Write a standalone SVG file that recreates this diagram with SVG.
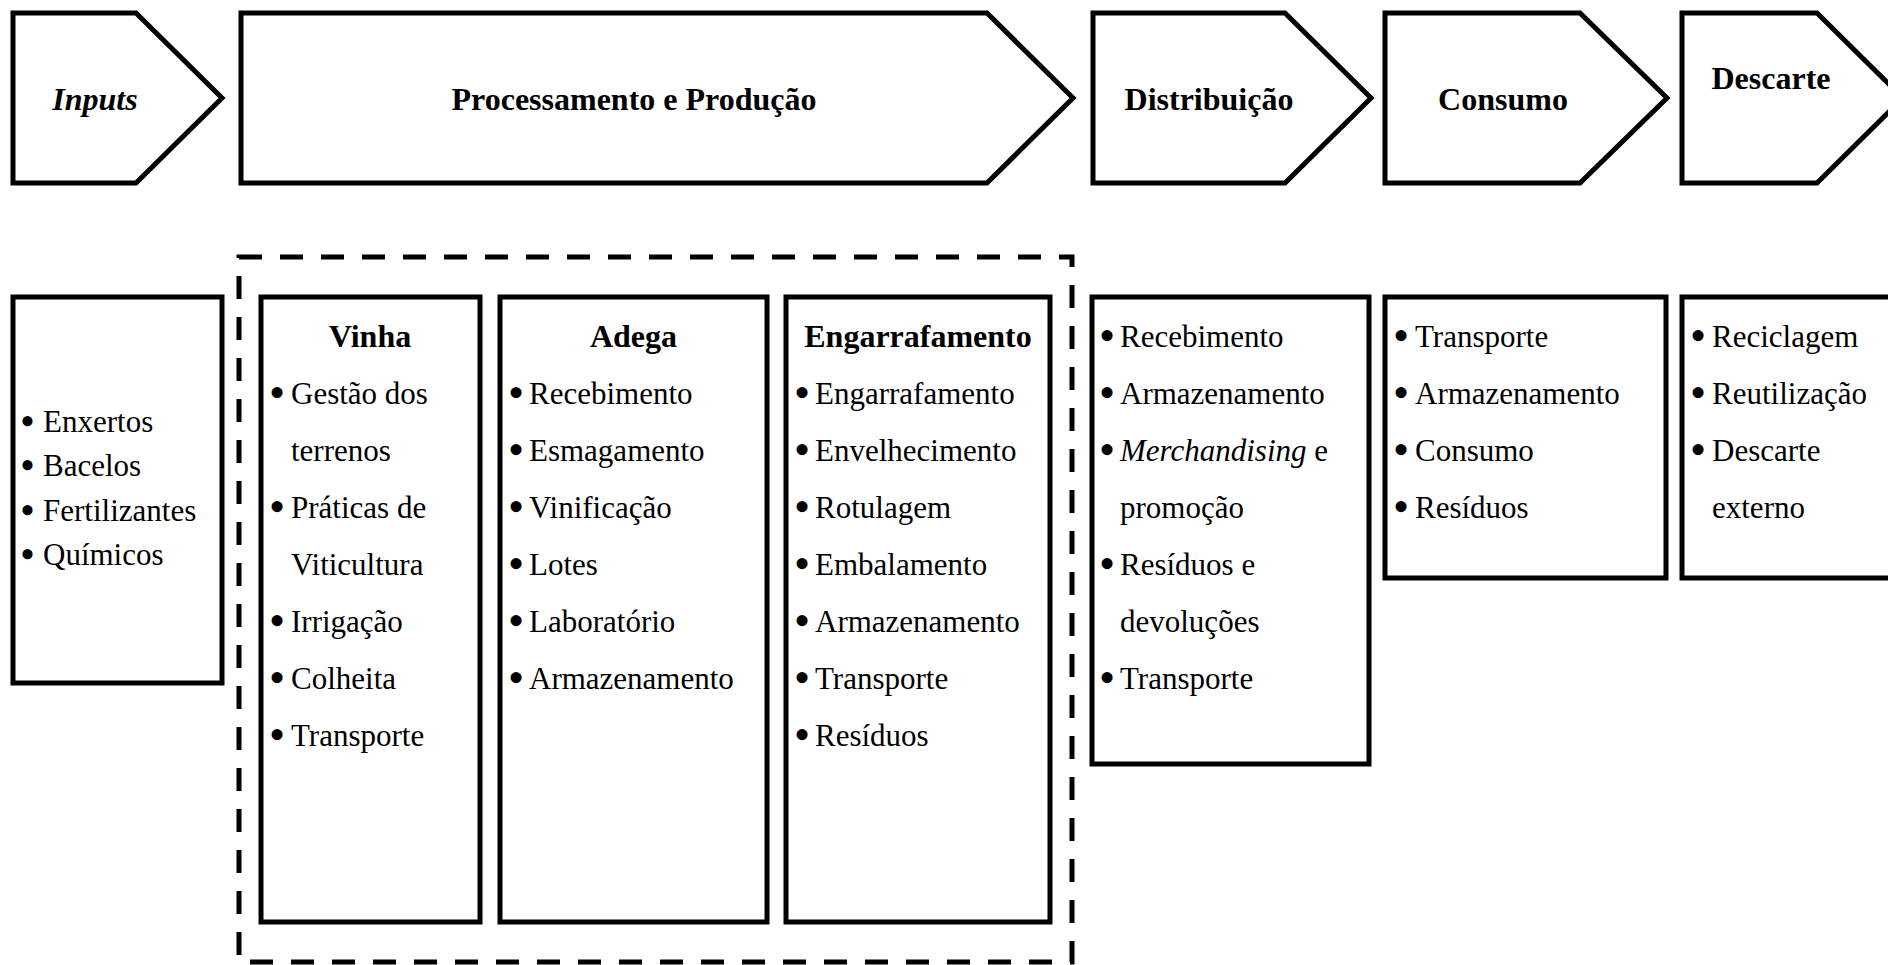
<svg xmlns="http://www.w3.org/2000/svg" width="1888" height="965" viewBox="0 0 1888 965">
  <style>
    .shape { fill: #ffffff; stroke: #000000; stroke-width: 5; stroke-linejoin: miter; }
    .frame { fill: none; stroke: #000000; stroke-width: 5; stroke-dasharray: 23 18; }
    .head { font-family: "Liberation Serif", "Times New Roman", serif; font-size: 32px; font-weight: bold; fill: #000; }
    .item { font-family: "Liberation Serif", "Times New Roman", serif; font-size: 31px; fill: #000; }
    .dot { font-family: "Liberation Serif", "Times New Roman", serif; font-size: 46px; fill: #000; }
    .dot-sm { font-family: "Liberation Serif", "Times New Roman", serif; font-size: 37px; font-weight: bold; fill: #000; }
    .mid { text-anchor: middle; }
  </style>

  <rect width="1888" height="965" fill="#ffffff"/>

  <!-- Stage chevrons -->
  <g id="stage-inputs">
    <polygon class="shape" points="13,13 136,13 222,98 136,183 13,183"/>
    <text class="head mid" x="95" y="110" font-style="italic">Inputs</text>
  </g>
  <g id="stage-processamento">
    <polygon class="shape" points="241,13 987,13 1073,98 987,183 241,183"/>
    <text class="head mid" x="634" y="110">Processamento e Produção</text>
  </g>
  <g id="stage-distribuicao">
    <polygon class="shape" points="1093,13 1285,13 1371,98 1285,183 1093,183"/>
    <text class="head mid" x="1209" y="110">Distribuição</text>
  </g>
  <g id="stage-consumo">
    <polygon class="shape" points="1385,13 1580,13 1667,98 1580,183 1385,183"/>
    <text class="head mid" x="1503" y="110">Consumo</text>
  </g>
  <g id="stage-descarte">
    <polygon class="shape" points="1682,13 1817,13 1903,98 1817,183 1682,183"/>
    <text class="head mid" x="1771" y="89">Descarte</text>
  </g>

  <!-- Dashed frame around the production sub-stages -->
  <g id="production-frame">
    <rect class="frame" x="239" y="257" width="833" height="705"/>
  </g>

  <!-- Detail boxes; bullets are drawn a little larger than the item text -->
  <g id="box-inputs">
    <rect class="shape" x="13" y="297" width="209" height="386"/>
    <g class="dot-sm">
      <text x="21" y="434">•</text>
      <text x="21" y="478">•</text>
      <text x="21" y="523">•</text>
      <text x="21" y="567">•</text>
    </g>
    <g class="item">
      <text x="43" y="432">Enxertos</text>
      <text x="43" y="476">Bacelos</text>
      <text x="43" y="521">Fertilizantes</text>
      <text x="43" y="565">Químicos</text>
    </g>
  </g>

  <g id="box-vinha">
    <rect class="shape" x="261" y="297" width="219" height="625"/>
    <text class="head mid" x="370" y="347">Vinha</text>
    <g class="dot">
      <text x="269" y="408">•</text>
      <text x="269" y="522">•</text>
      <text x="269" y="636">•</text>
      <text x="269" y="693">•</text>
      <text x="269" y="750">•</text>
    </g>
    <g class="item">
      <text x="291" y="404">Gestão dos</text>
      <text x="291" y="461">terrenos</text>
      <text x="291" y="518">Práticas de</text>
      <text x="291" y="575">Viticultura</text>
      <text x="291" y="632">Irrigação</text>
      <text x="291" y="689">Colheita</text>
      <text x="291" y="746">Transporte</text>
    </g>
  </g>

  <g id="box-adega">
    <rect class="shape" x="500" y="297" width="267" height="625"/>
    <text class="head mid" x="633.5" y="347">Adega</text>
    <g class="dot">
      <text x="508" y="408">•</text>
      <text x="508" y="465">•</text>
      <text x="508" y="522">•</text>
      <text x="508" y="579">•</text>
      <text x="508" y="636">•</text>
      <text x="508" y="693">•</text>
    </g>
    <g class="item">
      <text x="529" y="404">Recebimento</text>
      <text x="529" y="461">Esmagamento</text>
      <text x="529" y="518">Vinificação</text>
      <text x="529" y="575">Lotes</text>
      <text x="529" y="632">Laboratório</text>
      <text x="529" y="689">Armazenamento</text>
    </g>
  </g>

  <g id="box-engarrafamento">
    <rect class="shape" x="786" y="297" width="264" height="625"/>
    <text class="head mid" x="918" y="347">Engarrafamento</text>
    <g class="dot">
      <text x="794" y="408">•</text>
      <text x="794" y="465">•</text>
      <text x="794" y="522">•</text>
      <text x="794" y="579">•</text>
      <text x="794" y="636">•</text>
      <text x="794" y="693">•</text>
      <text x="794" y="750">•</text>
    </g>
    <g class="item">
      <text x="815" y="404">Engarrafamento</text>
      <text x="815" y="461">Envelhecimento</text>
      <text x="815" y="518">Rotulagem</text>
      <text x="815" y="575">Embalamento</text>
      <text x="815" y="632">Armazenamento</text>
      <text x="815" y="689">Transporte</text>
      <text x="815" y="746">Resíduos</text>
    </g>
  </g>

  <g id="box-distribuicao">
    <rect class="shape" x="1092" y="297" width="277" height="467"/>
    <g class="dot">
      <text x="1099" y="351">•</text>
      <text x="1099" y="408">•</text>
      <text x="1099" y="465">•</text>
      <text x="1099" y="579">•</text>
      <text x="1099" y="693">•</text>
    </g>
    <g class="item">
      <text x="1120" y="347">Recebimento</text>
      <text x="1120" y="404">Armazenamento</text>
      <text x="1120" y="461"><tspan font-style="italic">Merchandising</tspan> e</text>
      <text x="1120" y="518">promoção</text>
      <text x="1120" y="575">Resíduos e</text>
      <text x="1120" y="632">devoluções</text>
      <text x="1120" y="689">Transporte</text>
    </g>
  </g>

  <g id="box-consumo">
    <rect class="shape" x="1385" y="297" width="281" height="281"/>
    <g class="dot">
      <text x="1393" y="351">•</text>
      <text x="1393" y="408">•</text>
      <text x="1393" y="465">•</text>
      <text x="1393" y="522">•</text>
    </g>
    <g class="item">
      <text x="1415" y="347">Transporte</text>
      <text x="1415" y="404">Armazenamento</text>
      <text x="1415" y="461">Consumo</text>
      <text x="1415" y="518">Resíduos</text>
    </g>
  </g>

  <g id="box-descarte">
    <rect class="shape" x="1682" y="297" width="230" height="281"/>
    <g class="dot">
      <text x="1690" y="351">•</text>
      <text x="1690" y="408">•</text>
      <text x="1690" y="465">•</text>
    </g>
    <g class="item">
      <text x="1712" y="347">Reciclagem</text>
      <text x="1712" y="404">Reutilização</text>
      <text x="1712" y="461">Descarte</text>
      <text x="1712" y="518">externo</text>
    </g>
  </g>
</svg>
